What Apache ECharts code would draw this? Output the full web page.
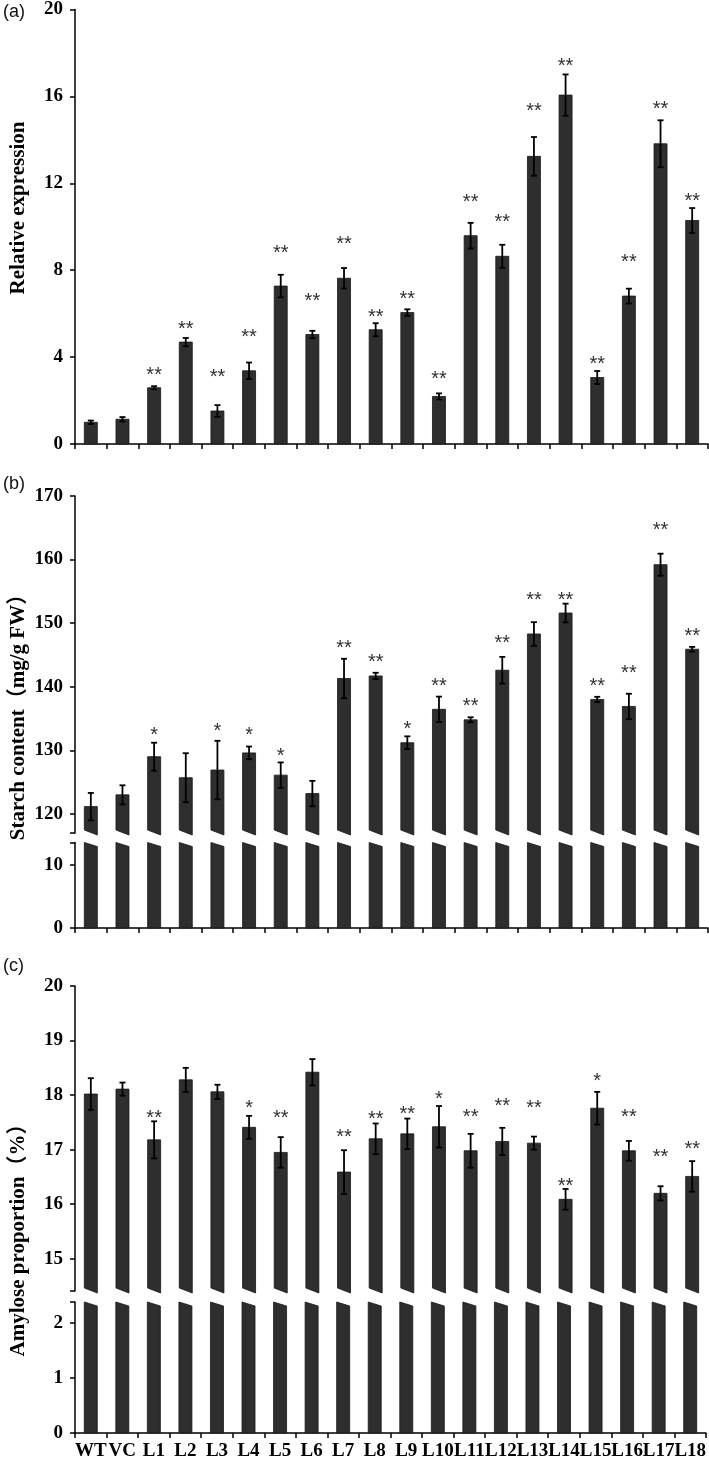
<!DOCTYPE html>
<html lang="en">
<head>
<meta charset="UTF-8">
<title>Relative expression, starch content and amylose proportion</title>
<script src="https://cdn.jsdelivr.net/npm/echarts@6/dist/echarts.min.js"></script>
<style>
  body { margin: 0; background: #fff; }
  #chart { width: 709px; height: 1461px; }
</style>
</head>
<body>
<div id="chart"></div>
<script>
const lines = ['WT', 'VC', 'L1', 'L2', 'L3', 'L4', 'L5', 'L6', 'L7', 'L8', 'L9',
               'L10', 'L11', 'L12', 'L13', 'L14', 'L15', 'L16', 'L17', 'L18'];

// (a) relative expression
const exprMean = [1.0, 1.14, 2.59, 4.69, 1.52, 3.37, 7.27, 5.04, 7.63, 5.26,
                  6.05, 2.19, 9.59, 8.64, 13.24, 16.06, 3.06, 6.81, 13.82, 10.29];
const exprErr = [0.08, 0.1, 0.07, 0.19, 0.27, 0.38, 0.52, 0.17, 0.47, 0.3,
                 0.15, 0.14, 0.59, 0.53, 0.89, 0.95, 0.3, 0.34, 1.08, 0.57];
const exprStar = ['', '', '**', '**', '**', '**', '**', '**', '**', '**',
                  '**', '**', '**', '**', '**', '**', '**', '**', '**', '**'];
const exprStarY = [0, 0, 3.38, 5.52, 3.31, 5.14, 9.02, 6.81, 9.40, 6.05,
                   6.86, 3.19, 11.35, 10.42, 15.53, 17.6, 3.89, 8.59, 15.62, 11.41];

// (b) starch content, mg/g FW
const starchMean = [121.15, 123.0, 129.0, 125.7, 126.9, 129.6, 126.1, 123.2, 141.3, 141.7,
                    131.2, 136.45, 134.8, 142.6, 148.3, 151.6, 138.0, 136.9, 159.2, 145.9];
const starchErr = [2.15, 1.5, 2.2, 3.85, 4.6, 1.0, 2.0, 2.0, 3.1, 0.5,
                   1.0, 2.0, 0.4, 2.1, 1.86, 1.47, 0.42, 2.0, 1.73, 0.37];
const starchStar = ['', '', '*', '', '*', '*', '*', '', '**', '**',
                    '*', '**', '**', '**', '**', '**', '**', '**', '**', '**'];
const starchStarY = [0, 0, 133.1, 0, 133.7, 133.05, 129.8, 0, 146.8, 144.6,
                     134.0, 140.9, 137.7, 147.6, 154.4, 154.4, 140.9, 142.9, 165.4, 148.7];

// (c) amylose proportion, %
const amyMean = [18.02, 18.11, 17.18, 18.28, 18.06, 17.41, 16.95, 18.42, 16.59, 17.2,
                 17.29, 17.42, 16.98, 17.15, 17.12, 16.09, 17.76, 16.98, 16.2, 16.51];
const amyErr = [0.29, 0.12, 0.34, 0.22, 0.13, 0.21, 0.28, 0.24, 0.4, 0.28,
                0.28, 0.38, 0.31, 0.25, 0.12, 0.19, 0.3, 0.18, 0.13, 0.28];
const amyStar = ['', '', '**', '', '', '*', '**', '', '**', '**',
                 '**', '*', '**', '**', '**', '**', '*', '**', '**', '**'];
const amyStarY = [0, 0, 17.67, 0, 0, 17.85, 17.67, 0, 17.32, 17.64,
                  17.73, 18.02, 17.69, 17.88, 17.85, 16.42, 18.34, 17.69, 16.94, 17.1];

// y tick labels
const exprTicks = [0, 4, 8, 12, 16, 20];
const starchHiTicks = [120, 130, 140, 150, 160, 170];
const starchLoTicks = [0, 10];
const amyHiTicks = [15, 16, 17, 18, 19, 20];
const amyLoTicks = [0, 1, 2];

// where the broken axes are cut
const starchCutHi = 117.0;
const starchCutLo = 13.5;
const amyCutHi = 14.41;
const amyCutLo = 2.38;

const HALF = 6.5;
const BAR_FILL = '#2e2e2e';

function barRenderer(cut, mean, err, star, starY) {
    return function (params, api) {
        const i = params.dataIndex;
        const cs = params.coordSys;
        const gridTop = cs.y;
        const gridBottom = cs.y + cs.height;
        const x = api.coord([i, mean[i]])[0];
        const yTop = api.coord([i, mean[i]])[1];
        let pts;
        if (cut === 'upper') {
            pts = [[x - HALF, yTop], [x + HALF, yTop], [x + HALF, gridBottom + 2], [x - HALF, gridBottom - 3]];
        } else if (cut === 'lower') {
            const yt = Math.max(yTop, gridTop);
            pts = [[x - HALF, yt], [x + HALF, yt + 4], [x + HALF, gridBottom], [x - HALF, gridBottom]];
        } else {
            pts = [[x - HALF, yTop], [x + HALF, yTop], [x + HALF, gridBottom], [x - HALF, gridBottom]];
        }
        const children = [{
            type: 'polygon',
            shape: { points: pts },
            style: { fill: BAR_FILL, stroke: '#161616', lineWidth: 0.8 }
        }];
        if (cut !== 'lower') {
            const y1 = api.coord([i, mean[i] + err[i]])[1];
            const y2 = api.coord([i, mean[i] - err[i]])[1];
            const errStyle = { stroke: '#000', lineWidth: 1.8 };
            children.push(
                { type: 'line', shape: { x1: x, y1: y1, x2: x, y2: y2 }, style: errStyle },
                { type: 'line', shape: { x1: x - 3, y1: y1, x2: x + 3, y2: y1 }, style: errStyle },
                { type: 'line', shape: { x1: x - 3, y1: y2, x2: x + 3, y2: y2 }, style: errStyle }
            );
            if (star[i]) {
                children.push({
                    type: 'text',
                    x: x,
                    y: api.coord([i, starY[i]])[1] + 5,
                    style: {
                        text: star[i],
                        fill: '#333',
                        fontSize: 20,
                        fontFamily: 'Liberation Sans',
                        align: 'center',
                        verticalAlign: 'middle'
                    }
                });
            }
        }
        return { type: 'group', children: children };
    };
}

const axisLine = { show: true, lineStyle: { color: '#000', width: 1.5 } };
const tickStyle = { show: true, inside: false, length: 5, lineStyle: { color: '#000', width: 1.5 } };
const numFont = { fontFamily: 'Liberation Serif', fontWeight: 'bold', fontSize: 19, color: '#000', margin: 12 };
const nameFont = { fontFamily: 'Liberation Serif, Noto Sans CJK SC', fontWeight: 'bold', fontSize: 21, color: '#000' };

const gridLeft = 75, gridWidth = 633;
const grids = [
    { top: 6.5, height: 437.5 },   // a
    { top: 496, height: 337 },     // b upper
    { top: 842.5, height: 85.5 },  // b lower
    { top: 986, height: 305 },     // c upper
    { top: 1302, height: 131 },    // c lower
    { top: 0, height: 416 },       // frame for name a
    { top: 496, height: 432 },     // frame for name b
    { top: 1037, height: 396 }     // frame for name c
].map(g => Object.assign({ left: gridLeft, width: gridWidth }, g));

function xAxis(gridIndex, visible, labels) {
    return {
        type: 'category', gridIndex: gridIndex, data: lines, show: visible,
        axisLine: axisLine,
        axisTick: tickStyle,
        axisLabel: labels
            ? { show: true, interval: 0, fontFamily: 'Liberation Serif', fontWeight: 'bold', fontSize: 19, color: '#000', margin: 9 }
            : { show: false },
        splitLine: { show: false }
    };
}

function yAxis(gridIndex, min, max, labelVals, tickVals) {
    return {
        type: 'value', gridIndex: gridIndex, min: min, max: max,
        axisLine: axisLine,
        axisTick: Object.assign({ customValues: tickVals }, tickStyle),
        axisLabel: Object.assign({ customValues: labelVals }, numFont),
        splitLine: { show: false }
    };
}

function nameAxis(gridIndex, name) {
    return {
        type: 'value', gridIndex: gridIndex, min: 0, max: 1,
        axisLine: { show: false }, axisTick: { show: false },
        axisLabel: { show: false }, splitLine: { show: false },
        name: name, nameLocation: 'middle', nameGap: 54, nameTextStyle: nameFont
    };
}

function barSeries(idx, cut, mean, err, star, starY) {
    return {
        type: 'custom', xAxisIndex: idx, yAxisIndex: idx,
        data: mean.map((v, i) => [i, v]),
        encode: { x: 0, y: 1 },
        clip: false,
        renderItem: barRenderer(cut, mean, err, star, starY)
    };
}

const chart = echarts.init(document.getElementById('chart'), null, { renderer: 'canvas' });
chart.setOption({
    animation: false,
    backgroundColor: '#fff',
    title: [
        { text: '(a)', left: 3, top: 3 },
        { text: '(b)', left: 3, top: 475 },
        { text: '(c)', left: 3, top: 957 }
    ].map(t => Object.assign(t, { padding: 0, textStyle: { fontFamily: 'Liberation Sans', fontWeight: 'normal', fontSize: 18, color: '#111' } })),
    grid: grids,
    xAxis: [
        xAxis(0, true, false),
        xAxis(1, false, false),
        xAxis(2, true, false),
        xAxis(3, false, false),
        xAxis(4, true, true),
        xAxis(5, false, false),
        xAxis(6, false, false),
        xAxis(7, false, false)
    ],
    yAxis: [
        yAxis(0, 0, 20, exprTicks, exprTicks),
        yAxis(1, starchCutHi, 170, starchHiTicks, [starchCutHi].concat(starchHiTicks)),
        yAxis(2, 0, starchCutLo, starchLoTicks, starchLoTicks.concat([starchCutLo])),
        yAxis(3, amyCutHi, 20, amyHiTicks, [amyCutHi].concat(amyHiTicks)),
        yAxis(4, 0, amyCutLo, amyLoTicks, amyLoTicks.concat([amyCutLo])),
        nameAxis(5, 'Relative expression'),
        nameAxis(6, 'Starch content（mg/g FW）'),
        nameAxis(7, 'Amylose proportion（%）')
    ],
    series: [
        barSeries(0, 'none', exprMean, exprErr, exprStar, exprStarY),
        barSeries(1, 'upper', starchMean, starchErr, starchStar, starchStarY),
        barSeries(2, 'lower', starchMean, starchErr, starchStar, starchStarY),
        barSeries(3, 'upper', amyMean, amyErr, amyStar, amyStarY),
        barSeries(4, 'lower', amyMean, amyErr, amyStar, amyStarY)
    ]
});
</script>
</body>
</html>
